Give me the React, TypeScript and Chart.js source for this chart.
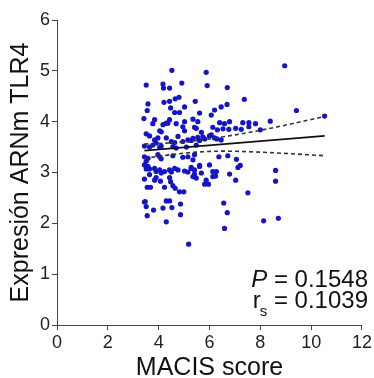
import { useEffect, useRef } from "react";
import { Chart, registerables } from "chart.js";

Chart.register(...registerables);

// MACIS score (x) and TLR4 mRNA expression (y) per patient
const macisScore = [
  4.52, 3.51, 4.17, 4.19, 4.43, 4.91, 5.87, 5.91, 3.58, 3.55,
  4.21, 4.43, 4.65, 4.80, 4.47, 5.02, 5.44, 4.63, 4.82, 5.61,
  3.42, 3.84, 3.77, 4.43, 4.36, 4.69, 5.02, 4.95, 5.35, 5.54,
  5.41, 5.48, 4.17, 4.30, 4.04, 4.10, 3.51, 3.64, 5.02, 4.76,
  5.68, 5.74, 3.84, 3.97, 3.90, 3.77, 4.30, 4.50, 4.63, 4.95,
  5.15, 5.28, 5.61, 5.81, 3.44, 3.64, 4.04, 4.10, 4.56, 4.69,
  5.09, 5.48, 3.44, 3.58, 3.97, 4.04, 4.56, 4.95, 5.41, 4.10,
  5.15, 5.35, 3.51, 3.64, 3.84, 3.90, 4.04, 4.10, 4.23, 4.43,
  4.50, 4.63, 4.76, 5.02, 5.15, 5.28, 5.41, 5.61, 5.35, 5.48,
  3.44, 3.84, 3.90, 4.07, 4.43, 4.47, 5.87, 5.81, 5.96, 3.55,
  3.68, 4.23, 4.56, 4.65, 4.82, 4.99, 3.47, 3.51, 3.80, 4.30,
  4.43, 4.17, 4.52, 4.86, 3.55, 4.86, 4.30, 5.18, 6.13, 6.24,
  6.79, 7.03, 7.51, 6.56, 6.70, 6.59, 8.60, 8.60, 8.13, 8.71,
  8.96, 7.37, 9.42, 10.53, 7.31, 7.55, 7.55, 7.81, 8.00, 8.39,
  7.21, 6.70, 6.69, 6.46, 6.20, 6.07, 6.40, 6.59, 6.79, 6.13,
  6.31, 6.07, 6.20, 6.53, 6.76, 7.03, 7.25, 6.37, 6.72, 7.06,
  7.12, 6.00, 6.27, 6.13, 5.61, 5.68, 5.28, 5.41, 5.35, 5.54,
  6.00, 6.29, 6.46, 3.51, 3.44, 3.58, 3.64, 3.44,
];
const tlr4Expr = [
  5.01, 4.72, 4.74, 4.66, 4.66, 4.76, 4.97, 4.71, 4.35, 4.22,
  4.38, 4.40, 4.45, 4.48, 4.27, 4.29, 4.40, 4.18, 4.18, 4.17,
  4.06, 4.04, 3.96, 4.04, 3.97, 3.96, 4.00, 3.90, 4.05, 4.00,
  3.89, 3.87, 3.94, 3.97, 3.82, 3.80, 3.76, 3.72, 3.82, 3.71,
  3.79, 3.70, 3.64, 3.68, 3.58, 3.54, 3.68, 3.61, 3.59, 3.61,
  3.64, 3.63, 3.63, 3.66, 3.52, 3.50, 3.50, 3.52, 3.51, 3.48,
  3.50, 3.54, 3.31, 3.28, 3.35, 3.31, 3.33, 3.30, 3.35, 3.27,
  3.31, 3.25, 3.07, 3.07, 3.08, 3.02, 3.05, 2.99, 3.02, 3.05,
  3.01, 3.08, 3.05, 3.03, 3.01, 3.10, 3.05, 3.14, 2.92, 2.89,
  2.87, 2.85, 2.90, 2.83, 2.90, 2.82, 2.85, 2.77, 2.77, 2.71,
  2.71, 2.71, 2.74, 2.69, 2.62, 2.62, 2.43, 2.33, 2.26, 2.44,
  2.44, 2.30, 2.31, 2.38, 2.15, 2.17, 2.03, 1.59, 3.02, 2.93,
  2.97, 2.85, 2.60, 2.40, 2.21, 1.90, 3.04, 2.83, 2.05, 2.10,
  5.10, 4.44, 4.22, 4.11, 3.98, 3.98, 3.90, 3.96, 3.84, 4.01,
  3.14, 4.67, 4.34, 4.29, 4.23, 4.13, 3.98, 3.96, 4.00, 3.89,
  3.84, 3.74, 3.68, 3.86, 3.85, 3.87, 3.85, 3.31, 3.33, 3.26,
  3.10, 3.15, 3.02, 2.92, 3.12, 2.99, 3.08, 2.97, 3.67, 3.69,
  3.72, 3.66, 3.64, 3.22, 3.15, 3.12, 2.96, 2.42,
];

// Regression line and 95% confidence band
const fitX = [3.44, 10.53];
const fitY = [3.43, 3.72];
const bandX = [3.44, 5.0, 6.5, 8.0, 10.53];
const upperBand = [3.56, 3.60, 3.70, 3.83, 4.10];
const lowerBand = [3.28, 3.38, 3.42, 3.40, 3.33];

const xTicks = [0, 2, 4, 6, 8, 10, 12];
const yTicks = [0, 1, 2, 3, 4, 5, 6];

const xTitle = "MACIS score";
const yTitle = "Expresión ARNm TLR4";
const pValue = "0.1548";
const rsValue = "0.1039";

const FONT = "'Liberation Sans', Arial, sans-serif";

const toPoints = (xs: number[], ys: number[]) => xs.map((x, i) => ({ x, y: ys[i] }));

const statsPlugin = {
  id: "stats",
  afterDraw(chart: any) {
    const { ctx, chartArea } = chart;
    const right = chartArea.right + 6;
    const base1 = chartArea.bottom - 38;
    const base2 = chartArea.bottom - 17;
    ctx.save();
    ctx.fillStyle = "#111";
    ctx.textBaseline = "alphabetic";
    ctx.textAlign = "left";
    // line 1: P = value
    ctx.font = `24px ${FONT}`;
    const rest1 = ` = ${pValue}`;
    const w1 = ctx.measureText(rest1).width;
    ctx.fillText(rest1, right - w1, base1);
    ctx.font = `italic 24px ${FONT}`;
    const wP = ctx.measureText("P").width;
    ctx.fillText("P", right - w1 - wP, base1);
    // line 2: r_s = value
    ctx.font = `24px ${FONT}`;
    const rest2 = ` = ${rsValue}`;
    const w2 = ctx.measureText(rest2).width;
    ctx.fillText(rest2, right - w2, base2);
    ctx.font = `15px ${FONT}`;
    const wS = ctx.measureText("s").width;
    ctx.fillText("s", right - w2 - wS, base2 + 8);
    ctx.font = `24px ${FONT}`;
    const wR = ctx.measureText("r").width;
    ctx.fillText("r", right - w2 - wS - wR + 1, base2);
    ctx.restore();
  },
};

export default function App() {
  const ref = useRef<HTMLCanvasElement>(null);

  useEffect(() => {
    if (!ref.current) return;
    const lineCommon = {
      showLine: true,
      pointRadius: 0,
      pointHoverRadius: 0,
      borderColor: "#111",
      borderWidth: 1.6,
      fill: false,
    };
    const chart = new Chart(ref.current, {
      type: "scatter",
      data: {
        datasets: [
          {
            label: "upper",
            data: toPoints(bandX, upperBand),
            ...lineCommon,
            borderColor: "#333",
            borderDash: [4, 3],
            tension: 0.4,
            cubicInterpolationMode: "monotone",
          },
          {
            label: "lower",
            data: toPoints(bandX, lowerBand),
            ...lineCommon,
            borderColor: "#333",
            borderDash: [4, 3],
            tension: 0.4,
            cubicInterpolationMode: "monotone",
          },
          {
            label: "fit",
            data: toPoints(fitX, fitY),
            ...lineCommon,
          },
          {
            label: "patients",
            data: toPoints(macisScore, tlr4Expr),
            pointRadius: 2.6,
            pointBackgroundColor: "#1414c8",
            pointBorderWidth: 0,
            showLine: false,
          },
        ] as any,
      },
      options: {
        animation: false,
        responsive: false,
        devicePixelRatio: 1,
        layout: { padding: { top: 20, right: 12, left: 0, bottom: 0 } },
        plugins: {
          legend: { display: false },
          tooltip: { enabled: false },
        },
        scales: {
          x: {
            type: "linear",
            min: 0,
            max: 12,
            afterBuildTicks: (s: any) => {
              s.ticks = xTicks.map((v) => ({ value: v }));
            },
            afterFit: (s: any) => {
              s.height = 53;
            },
            ticks: {
              font: { family: FONT, size: 18 },
              color: "#222",
              padding: 2,
              maxRotation: 0,
            },
            grid: {
              display: true,
              drawOnChartArea: false,
              drawTicks: true,
              tickLength: 5,
              color: "#444",
            },
            border: { display: true, color: "#444", width: 1 },
            title: {
              display: true,
              text: xTitle,
              color: "#111",
              font: { family: FONT, size: 25, lineHeight: 1 },
              padding: { top: 0, bottom: -3 },
            },
          },
          y: {
            type: "linear",
            min: 0,
            max: 6,
            afterBuildTicks: (s: any) => {
              s.ticks = yTicks.map((v) => ({ value: v }));
            },
            afterFit: (s: any) => {
              s.width = 57;
            },
            ticks: {
              font: { family: FONT, size: 18 },
              color: "#222",
              padding: 2,
            },
            grid: {
              display: true,
              drawOnChartArea: false,
              drawTicks: true,
              tickLength: 5,
              color: "#444",
            },
            border: { display: true, color: "#444", width: 1 },
            title: {
              display: true,
              text: yTitle,
              color: "#111",
              font: { family: FONT, size: 25, lineHeight: 1 },
              padding: { top: 9, bottom: 0 },
            },
          },
        },
      } as any,
      plugins: [statsPlugin],
    });
    return () => chart.destroy();
  }, []);

  return (
    <div style={{ position: "fixed", left: 0, top: 0, width: 374, height: 378, background: "#fff" }}>
      <canvas ref={ref} width={374} height={378} style={{ display: "block" }} />
    </div>
  );
}
